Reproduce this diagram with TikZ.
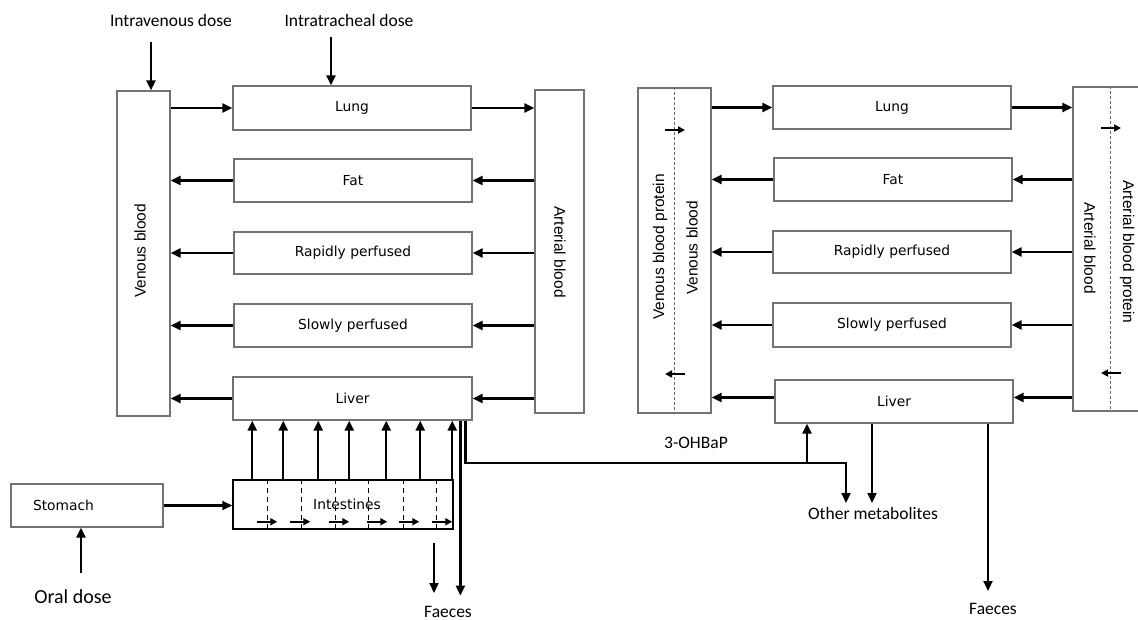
\documentclass[tikz,border=0pt]{standalone}
\usepackage{fontspec}
\setmainfont{Carlito}
\newfontfamily\boxfont{DejaVu Sans}
\newfontfamily\rotfont{Liberation Sans}
\usetikzlibrary{arrows.meta,calc}
\begin{document}
\begin{tikzpicture}[x=1pt,y=-1pt,
  box/.style={draw=black!55, line width=1.2pt, inner sep=0pt, font=\boxfont\fontsize{13.8}{16}\selectfont},
  arr/.style={line width=2.2pt, -{Triangle[length=10pt,width=9pt]}},
  sarr/.style={line width=1.8pt, -{Triangle[length=7pt,width=7pt]}},
  lbl/.style={font=\fontsize{17.5}{20}\selectfont, inner sep=0pt},
  rot/.style={font=\rotfont\fontsize{15.5}{18}\selectfont, inner sep=0pt},
  idash/.style={line width=1.4pt, dash pattern=on 5pt off 4pt},
  bdash/.style={draw=black!60, line width=0.8pt, dash pattern=on 3pt off 2pt},
]
\useasboundingbox (0,0) rectangle (1138,620);
\clip (0,0) rectangle (1138,620);

% ---------- left model ----------
\node[box, minimum width=53pt, minimum height=325pt] (vbL) at (143.5,253.5) {};
\node[box, minimum width=238pt, minimum height=44pt] (lungL) at (352,108) {Lung};
\node[box, minimum width=238pt, minimum height=43pt] (fatL) at (353,180.5) {Fat};
\node[box, minimum width=238pt, minimum height=42pt] (rapL) at (353,253) {Rapidly perfused};
\node[box, minimum width=238pt, minimum height=43pt] (slowL) at (353,325.5) {Slowly perfused};
\node[box, minimum width=239pt, minimum height=43pt] (livL) at (352.5,398.5) {Liver};
\node[box, minimum width=49pt, minimum height=323pt] (abL) at (559.5,251.5) {};
\node[rot, rotate=90] (vbLt) at (140,251) {Venous blood};
\node[rot, rotate=-90] (abLt) at (560,252) {Arterial blood};

\node[box, inner xsep=22pt, text width=108pt, align=left, minimum height=43pt] (stom) at (87,505.5) {Stomach};
\node[box, draw=black, line width=1.5pt, minimum width=220pt, minimum height=49pt] (intL) at (343,504.5) {\hspace*{8pt}Intestines};

\node[lbl] (ivd) at (171,20) {Intravenous dose};
\node[lbl] (itd) at (349,20) {Intratracheal dose};
\node[lbl, font=\fontsize{20}{24}\selectfont] (oral) at (73,597) {Oral dose};
\node[lbl] (faeL) at (448,612) {Faeces};

\coordinate (ivdS) at (151,42);
\draw[arr] (ivdS) -- (ivdS |- vbL.north);
\coordinate (itdS) at (331,37);
\draw[arr] (itdS) -- (itdS |- lungL.north);

\draw[arr] (lungL.west -| vbL.east) -- (lungL.west);
\draw[arr] (lungL.east) -- (lungL.east -| abL.west);
\foreach \n in {fatL,rapL,slowL,livL}{
  \draw[arr] (\n.east -| abL.west) -- (\n.east);
  \draw[arr] (\n.west) -- (\n.west -| vbL.east);
}

\coordinate (oralS) at (81,573);
\draw[arr] (oralS) -- (oralS |- stom.south);
\draw[arr] (stom.east) -- (stom.east -| intL.west);

\foreach \dx in {20,51,86,117,154,188,220}{
  \coordinate (u) at ($(intL.north west)+(\dx,0)$);
  \draw[arr] (u) -- (u |- livL.south);
}
\foreach \dx in {35,69,103,136,171,204}{
  \coordinate (d) at ($(intL.north west)+(\dx,0)$);
  \draw[idash] (d) -- (d |- intL.south);
}
\foreach \a in {25,58,97,135,167,200}{
  \coordinate (s) at ($(intL.south west)+(\a,-8)$);
  \draw[sarr] (s) -- ++(20,0);
}

\coordinate (fs) at (434,543);
\draw[arr] (fs) -- ++(0,50);
\coordinate (fa) at ($(livL.south west)+(228,0)$);
\draw[arr] (fa) -- ++(0,175);

% ---------- right model ----------
\node[box, minimum width=73pt, minimum height=325pt] (vbR) at (674.5,250.5) {};
\node[box, minimum width=238pt, minimum height=43pt] (lungR) at (892,107.5) {Lung};
\node[box, minimum width=238pt, minimum height=43pt] (fatR) at (893,179.5) {Fat};
\node[box, minimum width=238pt, minimum height=42pt] (rapR) at (892,252) {Rapidly perfused};
\node[box, minimum width=238pt, minimum height=44pt] (slowR) at (892,325) {Slowly perfused};
\node[box, minimum width=238pt, minimum height=43pt] (livR) at (894,401.5) {Liver};
\node[box, minimum width=80pt, minimum height=324pt] (abR) at (1113,249) {};

\draw[bdash] (vbR.north) -- (vbR.south);
\coordinate (abd) at (1110,0);
\draw[bdash] (abd |- abR.north) -- (abd |- abR.south);

\node[rot, rotate=90] (vbRp) at (660,247) {Venous blood protein};
\node[rot, rotate=90] (vbRt) at (692,248) {Venous blood};
\node[rot, rotate=-90] (abRt) at (1090,248) {Arterial blood};
\node[rot, rotate=-90] (abRp) at (1127,252) {Arterial blood protein};

\coordinate (va1) at (665,130);
\draw[sarr] (va1) -- ++(20,0);
\coordinate (va2) at (685,374);
\draw[sarr] (va2) -- ++(-20,0);
\coordinate (aa1) at (1101,128);
\draw[sarr] (aa1) -- ++(20,0);
\coordinate (aa2) at (1121,373);
\draw[sarr] (aa2) -- ++(-20,0);

\draw[arr] (lungR.west -| vbR.east) -- (lungR.west);
\draw[arr] (lungR.east) -- (lungR.east -| abR.west);
\foreach \n in {fatR,rapR,slowR}{
  \draw[arr] (\n.east -| abR.west) -- (\n.east);
  \draw[arr] (\n.west) -- (\n.west -| vbR.east);
}
\draw[arr] ([yshift=4pt]livR.east -| abR.west) -- ([yshift=4pt]livR.east);
\draw[arr] ([yshift=4pt]livR.west) -- ([yshift=4pt]livR.west -| vbR.east);

\node[lbl] (oh) at (696,443) {3-OHBaP};
\node[lbl] (other) at (873,513) {Other metabolites};
\node[lbl] (faeR) at (993,609) {Faeces};

\coordinate (fb) at ($(livL.south west)+(233,0)$);
\coordinate (oj) at (807,463);
\coordinate (om) at (846,503);
\draw[arr] (fb) |- (oj) -| (om);
\draw[arr] (oj) -- (oj |- livR.south);
\coordinate (om2) at (872,503);
\draw[arr] (om2 |- livR.south) -- (om2);
\coordinate (fr) at (988,591);
\draw[arr] (fr |- livR.south) -- (fr);
\end{tikzpicture}
\end{document}
